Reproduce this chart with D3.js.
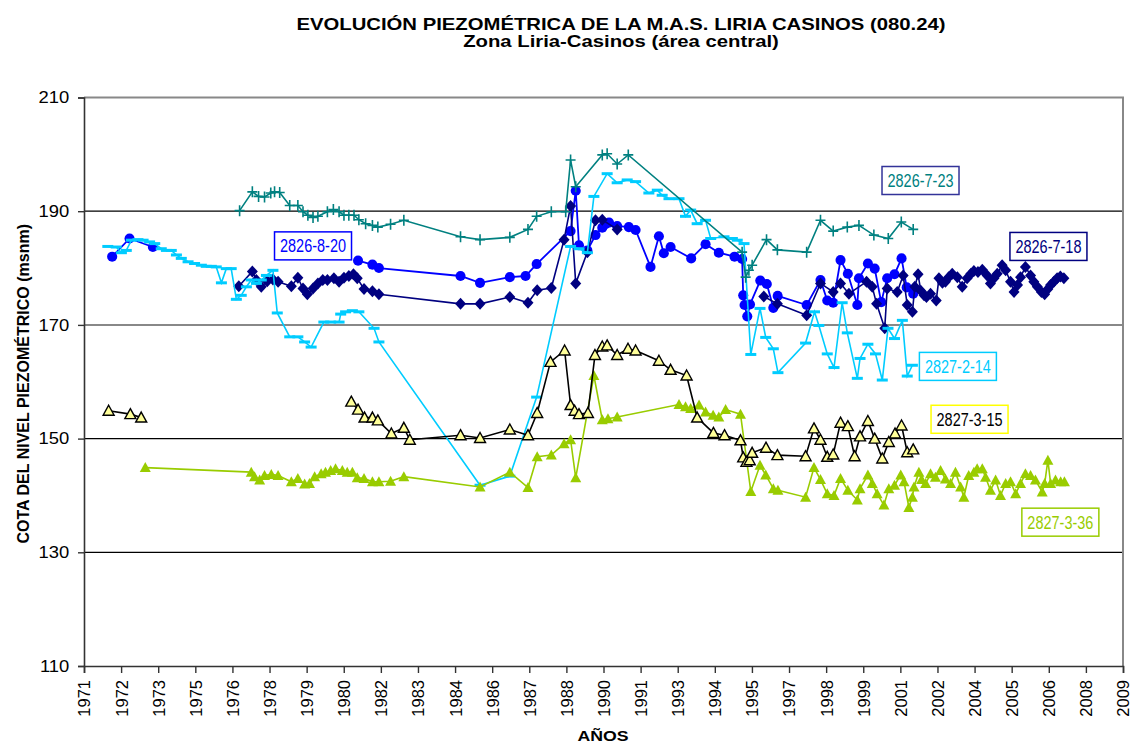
<!DOCTYPE html>
<html lang="es">
<head>
<meta charset="utf-8">
<title>Evolución piezométrica M.A.S. Liria Casinos</title>
<script src="https://d3js.org/d3.v7.min.js"></script>
<style>
body { margin: 0; background: #fff; }
text { font-family: "Liberation Sans", Arial, sans-serif; fill: #000; }
.tag text { font-family: "Liberation Sans Narrow", "Arial Narrow", "Liberation Sans", sans-serif; }
</style>
</head>
<body>
<div id="chart"></div>
<script>
// ---- data (decimal year, msnm) ----
const s2826_7_23 = [[1976.92,190.1],[1977.39,193.4],[1977.62,192.6],[1977.84,192.5],[1978.07,193.2],[1978.21,193.4],[1978.40,193.3],[1978.77,191.0],[1979.07,191.0],[1979.26,189.9],[1979.44,189.3],[1979.63,188.9],[1979.81,189.1],[1980.16,189.9],[1980.38,190.3],[1980.59,189.9],[1980.77,189.3],[1980.95,189.3],[1981.14,189.3],[1981.32,188.5],[1981.57,187.8],[1981.82,187.5],[1982.02,187.2],[1982.49,187.7],[1982.98,188.4],[1985.07,185.5],[1985.79,185.0],[1986.89,185.4],[1987.56,186.8],[1987.88,189.1],[1988.42,189.9],[1988.95,189.9],[1989.13,199.0],[1989.32,194.3],[1990.30,199.9],[1990.48,200.1],[1990.85,198.3],[1991.26,199.9],[1995.46,182.8],[1995.59,178.4],[1995.71,179.6],[1995.83,180.5],[1996.36,185.0],[1996.76,183.2],[1997.84,182.8],[1998.35,188.4],[1998.82,186.5],[1999.34,187.2],[1999.77,187.5],[2000.32,185.8],[2000.85,185.2],[2001.33,188.1],[2001.77,186.8]];

const s2827_2_14 = [[1972.06,183.8],[1972.37,183.7],[1972.56,182.7],[1972.74,183.1],[1972.93,184.9],[1973.17,185.0],[1973.36,184.9],[1973.60,184.6],[1973.79,184.3],[1974.03,183.4],[1974.22,183.1],[1974.40,183.1],[1974.59,182.3],[1974.77,181.7],[1975.02,181.1],[1975.26,180.8],[1975.51,180.5],[1975.69,180.3],[1975.88,180.3],[1976.06,180.2],[1976.25,177.4],[1976.43,179.9],[1976.61,179.9],[1976.80,174.5],[1976.98,175.2],[1977.17,176.7],[1977.35,177.9],[1977.54,177.3],[1977.72,177.9],[1977.91,178.7],[1978.15,179.6],[1978.31,172.1],[1978.77,167.9],[1979.07,167.9],[1979.32,167.0],[1979.56,166.1],[1980.03,170.5],[1980.28,170.5],[1980.59,170.5],[1980.65,171.9],[1980.83,172.3],[1981.08,172.5],[1981.32,172.3],[1981.88,169.4],[1982.06,167.0],[1985.79,141.8],[1986.89,143.4],[1987.88,157.3],[1989.13,183.8],[1989.44,183.4],[1989.75,182.7],[1989.99,192.6],[1990.48,196.6],[1990.85,195.0],[1991.22,195.5],[1991.53,195.2],[1992.02,193.2],[1992.33,193.7],[1992.51,192.8],[1992.76,192.2],[1993.13,192.2],[1993.37,189.1],[1993.56,190.2],[1993.80,187.8],[1994.11,188.4],[1994.30,185.2],[1994.79,185.5],[1995.10,185.2],[1995.28,184.9],[1995.53,184.3],[1995.78,164.8],[1996.12,172.9],[1996.33,167.8],[1996.61,165.8],[1996.78,161.6],[1997.80,166.8],[1998.13,172.3],[1998.29,169.9],[1998.60,164.9],[1998.85,162.5],[1999.15,173.9],[1999.34,168.6],[1999.71,160.6],[1999.81,164.1],[2000.10,166.6],[2000.38,164.9],[2000.63,160.3],[2000.84,169.4],[2001.08,167.6],[2001.37,170.8],[2001.55,161.0],[2001.74,162.9]];

const s2826_8_20 = [[1972.22,182.0],[1972.86,185.2],[1973.72,183.7],null,[1981.29,181.3],[1981.82,180.6],[1982.06,180.0],[1985.07,178.6],[1985.79,177.4],[1986.89,178.4],[1987.47,178.6],[1987.88,180.7],[1989.13,186.5],[1989.32,193.6],[1989.44,184.0],[1989.75,183.1],[1990.05,185.8],[1990.30,187.1],[1990.42,187.7],[1990.55,188.0],[1990.85,187.4],[1991.28,187.2],[1991.53,186.7],[1992.08,180.2],[1992.39,185.6],[1992.57,182.6],[1992.82,183.7],[1993.58,181.7],[1994.11,184.2],[1994.60,182.7],[1995.18,182.0],[1995.46,181.6],[1995.50,175.2],[1995.55,173.5],[1995.65,171.5],[1995.75,173.6],[1996.13,177.8],[1996.37,177.2],[1996.61,173.0],[1996.77,175.1],[1997.84,173.5],[1998.35,177.9],[1998.60,174.3],[1998.82,173.9],[1999.09,181.4],[1999.36,179.0],[1999.71,173.5],[1999.77,178.2],[2000.10,180.8],[2000.35,179.9],[2000.59,174.0],[2000.81,178.2],[2001.08,178.9],[2001.34,181.7],[2001.53,176.6],[2001.77,175.5]];

const s2826_7_18 = [[1976.89,176.8],[1977.39,179.4],[1977.54,177.9],[1977.72,176.7],[1977.94,177.7],[1978.15,178.0],[1978.34,177.6],[1978.83,176.8],[1979.07,178.3],[1979.26,176.4],[1979.42,175.4],[1979.63,176.4],[1979.81,177.3],[1979.99,177.9],[1980.16,177.9],[1980.40,178.2],[1980.59,177.6],[1980.77,178.3],[1980.95,178.6],[1981.12,178.9],[1981.26,178.2],[1981.51,176.3],[1981.82,175.9],[1982.06,175.4],[1985.07,173.7],[1985.79,173.7],[1986.89,174.9],[1987.56,173.9],[1987.90,176.1],[1988.42,176.5],[1988.89,185.0],[1989.13,190.9],[1989.32,177.3],[1989.75,182.8],[1990.05,188.4],[1990.30,188.5],[1990.85,186.8],null,[1996.26,175.0],[1996.76,173.7],[1997.84,171.7],[1998.35,177.3],[1998.82,175.8],[1999.09,177.3],[1999.40,175.5],[2000.05,177.6],[2000.26,176.7],[2000.42,173.7],[2000.72,169.4],[2000.81,176.4],[2001.18,175.8],[2001.40,178.7],[2001.55,173.5],[2001.74,172.3],[2001.83,176.7],[2001.95,178.9],[2002.05,176.0],[2002.17,175.2],[2002.26,174.9],[2002.41,175.5],[2002.62,174.3],[2002.72,178.2],[2002.85,177.4],[2002.96,177.6],[2003.08,178.4],[2003.21,179.0],[2003.40,178.4],[2003.58,176.7],[2003.76,178.2],[2003.90,179.0],[2004.01,179.5],[2004.16,179.3],[2004.32,179.7],[2004.50,178.7],[2004.62,177.3],[2004.75,178.2],[2004.87,179.0],[2005.05,180.5],[2005.18,179.6],[2005.36,177.6],[2005.49,175.8],[2005.62,177.0],[2005.73,178.4],[2005.91,180.2],[2006.10,178.7],[2006.22,177.6],[2006.35,176.7],[2006.50,175.8],[2006.62,175.4],[2006.74,176.3],[2006.84,177.0],[2006.96,177.6],[2007.08,178.2],[2007.20,178.5],[2007.33,178.2]];

const s2827_3_15 = [[1972.09,154.9],[1972.89,154.3],[1973.29,153.7],null,[1981.04,156.5],[1981.29,155.1],[1981.53,153.7],[1981.82,153.7],[1982.02,153.2],[1982.52,150.9],[1982.98,151.9],[1983.20,149.8],[1985.07,150.6],[1985.79,150.1],[1986.89,151.6],[1987.56,150.6],[1987.90,154.5],[1988.39,163.5],[1988.91,165.5],[1989.13,155.9],[1989.28,154.9],[1989.44,154.3],[1989.77,154.5],[1990.03,164.7],[1990.30,166.2],[1990.48,166.4],[1990.85,164.7],[1991.25,165.8],[1991.53,165.5],[1992.39,163.7],[1992.82,162.1],[1993.41,161.1],[1993.80,153.7],[1994.40,151.0],[1994.81,150.6],[1995.40,149.7],[1995.50,146.7],[1995.62,145.9],[1995.74,146.2],[1995.83,147.5],[1996.34,148.4],[1996.76,147.1],[1997.80,146.9],[1998.11,151.8],[1998.35,149.8],[1998.60,146.8],[1998.82,147.2],[1999.09,152.8],[1999.36,152.2],[1999.61,146.9],[1999.81,150.4],[2000.10,153.1],[2000.35,150.0],[2000.63,146.5],[2000.87,149.4],[2001.10,150.9],[2001.34,152.3],[2001.55,147.6],[2001.77,148.1]];

const s2827_3_36 = [[1973.44,144.9],[1977.35,144.1],[1977.47,143.3],[1977.66,142.7],[1977.84,143.5],[1978.09,143.7],[1978.34,143.5],[1978.83,142.4],[1979.07,143.0],[1979.32,142.0],[1979.50,142.1],[1979.69,143.3],[1979.93,143.8],[1980.09,144.1],[1980.28,144.4],[1980.46,144.7],[1980.71,144.4],[1980.89,144.1],[1981.08,144.1],[1981.26,143.1],[1981.51,143.0],[1981.82,142.4],[1982.06,142.4],[1982.49,142.5],[1982.98,143.3],[1985.79,141.5],[1986.89,144.1],[1987.56,141.4],[1987.90,146.8],[1988.42,147.1],[1988.89,149.1],[1989.13,149.8],[1989.32,143.1],[1989.99,161.1],[1990.30,153.3],[1990.51,153.5],[1990.85,153.8],[1993.13,156.0],[1993.37,155.6],[1993.56,155.3],[1993.87,155.9],[1994.11,154.7],[1994.39,154.1],[1994.60,153.8],[1994.85,155.1],[1995.40,154.3],[1995.78,140.7],[1996.12,145.3],[1996.33,143.6],[1996.61,141.2],[1996.78,140.9],[1997.80,139.7],[1998.11,144.9],[1998.35,142.8],[1998.60,140.3],[1998.85,140.0],[1999.09,143.0],[1999.36,140.9],[1999.71,139.2],[1999.81,141.2],[2000.10,143.6],[2000.26,142.1],[2000.44,140.3],[2000.69,138.3],[2000.87,141.2],[2001.08,141.8],[2001.31,143.6],[2001.43,142.4],[2001.61,137.9],[2001.74,139.7],[2001.80,141.5],[2001.98,144.1],[2002.08,142.8],[2002.23,142.1],[2002.41,143.8],[2002.59,143.2],[2002.78,144.4],[2002.96,142.9],[2003.15,142.1],[2003.33,144.1],[2003.52,141.5],[2003.64,139.7],[2003.82,143.5],[2004.01,144.1],[2004.13,144.7],[2004.32,144.7],[2004.44,143.2],[2004.62,140.9],[2004.81,142.7],[2004.99,140.0],[2005.18,142.1],[2005.36,142.4],[2005.55,140.3],[2005.73,142.1],[2005.91,143.8],[2006.10,143.5],[2006.28,142.7],[2006.53,140.6],[2006.62,142.1],[2006.74,146.2],[2006.84,142.1],[2007.02,142.7],[2007.21,142.4],[2007.35,142.4]];

// label anchors (decimal year, msnm)
const tagNames  = ["2826-8-20", "2826-7-23", "2826-7-18", "2827-2-14", "2827-3-15", "2827-3-36"];
const tagPlaces = [[1979.63,183.9],[2002.04,195.4],[2006.76,183.8],[2003.42,162.7],[2003.85,153.4],[2007.20,135.3]];

const yTicks = [110, 130, 150, 170, 190, 210];
const xTickSerials = d3.range(26000, 40001, 500);   // excel day numbers, every 500 days

// ---- helpers ----
const excelDate = s => new Date(Date.UTC(1899, 11, 30) + s * 864e5);
const yearDate = v => {
  const yr = Math.floor(v), a = Date.UTC(yr, 0, 1), b = Date.UTC(yr + 1, 0, 1);
  return new Date(a + (v - yr) * (b - a));
};

const W = 1132, H = 746;
const L = 84, R = 1123, T = 97.5, B = 666;

const svg = d3.select("#chart").append("svg").attr("width", W).attr("height", H);

const x = d3.scaleUtc().domain([excelDate(26000), excelDate(40000)]).range([L, R]);
const y = d3.scaleLinear().domain([110, 210]).range([B, T]);

// grid
svg.append("g").selectAll("line")
  .data(yTicks.filter(v => v > 110 && v < 210))
  .enter().append("line")
    .attr("x1", L).attr("x2", R)
    .attr("y1", d => y(d)).attr("y2", d => y(d))
    .attr("stroke", d => d === 170 ? "#888" : "#000")
    .attr("stroke-width", d => d === 170 ? 2 : 1.2);

// plot frame (top / right)
svg.append("path")
  .attr("d", `M${L},${y(210)}H${R}V${B}`)
  .attr("fill", "none").attr("stroke", "#888").attr("stroke-width", 2);

// axes
const yAxis = svg.append("g").attr("transform", `translate(${L},0)`)
  .call(d3.axisLeft(y).tickValues(yTicks).tickSize(6).tickPadding(7).tickFormat(d3.format("d")));
yAxis.selectAll("text").style("font-size", "16.3px").attr("transform", "scale(1.13,1)");

const xAxis = svg.append("g").attr("transform", `translate(0,${B})`)
  .call(d3.axisBottom(x).tickValues(xTickSerials.map(excelDate)).tickSize(7).tickFormat(d3.utcFormat("%Y")));
xAxis.selectAll("text")
  .attr("transform", "rotate(-90)")
  .attr("x", -14).attr("y", 0).attr("dy", "0.36em")
  .style("text-anchor", "end").style("font-size", "16.5px");

[yAxis, xAxis].forEach(a => {
  a.select(".domain").attr("stroke", "#333").attr("stroke-width", 1.6);
  a.selectAll(".tick line").attr("stroke", "#333").attr("stroke-width", 1.4);
});

// titles
function wideText(cx, cy, str, size, sx) {
  svg.append("g").attr("transform", `translate(${cx},${cy}) scale(${sx},1)`)
    .append("text").attr("text-anchor", "middle")
    .style("font-size", size + "px").style("font-weight", "bold").text(str);
}
wideText(621, 29.5, "EVOLUCIÓN PIEZOMÉTRICA DE LA M.A.S. LIRIA CASINOS (080.24)", 16.5, 1.23);
wideText(621, 47, "Zona Liria-Casinos (área central)", 16.5, 1.23);
wideText(603, 741, "AÑOS", 15, 1.18);

svg.append("text")
  .attr("transform", `translate(29,${(T + B) / 2 + 2}) rotate(-90)`)
  .attr("text-anchor", "middle")
  .style("font-size", "16px").style("font-weight", "bold")
  .text("COTA DEL NIVEL PIEZOMÉTRICO (msnm)");

// ---- series ----
const mk = {
  circle:  { d: d3.symbol(d3.symbolCircle, 80)(), fill: true },
  diamond: { d: "M0,-6L5.5,0L0,6L-5.5,0Z", fill: true },
  dash:    { d: "M-5.5,0H5.5", fill: false, sw: 3 },
  plus:    { d: "M-5,0H5M0,-5.5V5.5", fill: false, sw: 1.6 },
  tri:     { d: "M0,-5.5L5.5,4.5H-5.5Z", fill: true }
};

const series = [
  { data: s2826_8_20, color: "#0000FF", marker: "circle", lw: 1.8 },
  { data: s2826_7_18, color: "#000080", marker: "diamond", lw: 1.6 },
  { data: s2827_2_14, color: "#00CCFF", marker: "dash", lw: 1.6 },
  { data: s2826_7_23, color: "#008080", marker: "plus", lw: 1.6 },
  { data: s2827_3_36, color: "#99CC00", marker: "tri", lw: 1.6 },
  { data: s2827_3_15, color: "#000000", marker: "tri", lw: 1.6, fill: "#FFFF99" }
];

const line = d3.line()
  .defined(d => d !== null)
  .x(d => x(yearDate(d[0])))
  .y(d => y(d[1]));

series.forEach(s => {
  const g = svg.append("g");
  g.append("path").attr("d", line(s.data))
    .attr("fill", "none").attr("stroke", s.color).attr("stroke-width", s.lw);
  const m = mk[s.marker];
  g.selectAll("path.mk")
    .data(s.data.filter(d => d !== null))
    .enter().append("path").attr("class", "mk")
      .attr("transform", d => `translate(${x(yearDate(d[0]))},${y(d[1])})`)
      .attr("d", m.d)
      .attr("fill", m.fill ? (s.fill || s.color) : "none")
      .attr("stroke", m.fill ? (s.fill ? "#000" : "none") : s.color)
      .attr("stroke-width", m.fill ? 1.4 : m.sw);
});

// ---- station tags ----
const tagText   = ["#0000FF", "#008080", "#000080", "#00CCFF", "#000000", "#99CC00"];
const tagBorder = ["#0000FF", "#333399", "#000080", "#00CCFF", "#FFFF00", "#99CC00"];

const tags = svg.append("g").attr("class", "tag").selectAll("g")
  .data(tagNames).enter().append("g")
    .attr("transform", (d, i) => `translate(${x(yearDate(tagPlaces[i][0]))},${y(tagPlaces[i][1])})`);
tags.append("rect")
  .attr("x", -38.5).attr("y", -14).attr("width", 77).attr("height", 28)
  .attr("fill", "#fff")
  .attr("stroke", (d, i) => tagBorder[i]).attr("stroke-width", 1.5);
tags.append("text")
  .attr("text-anchor", "middle").attr("y", 6.5)
  .attr("textLength", 66).attr("lengthAdjust", "spacingAndGlyphs")
  .style("font-size", "18px")
  .style("fill", (d, i) => tagText[i])
  .text(d => d);
</script>
</body>
</html>
